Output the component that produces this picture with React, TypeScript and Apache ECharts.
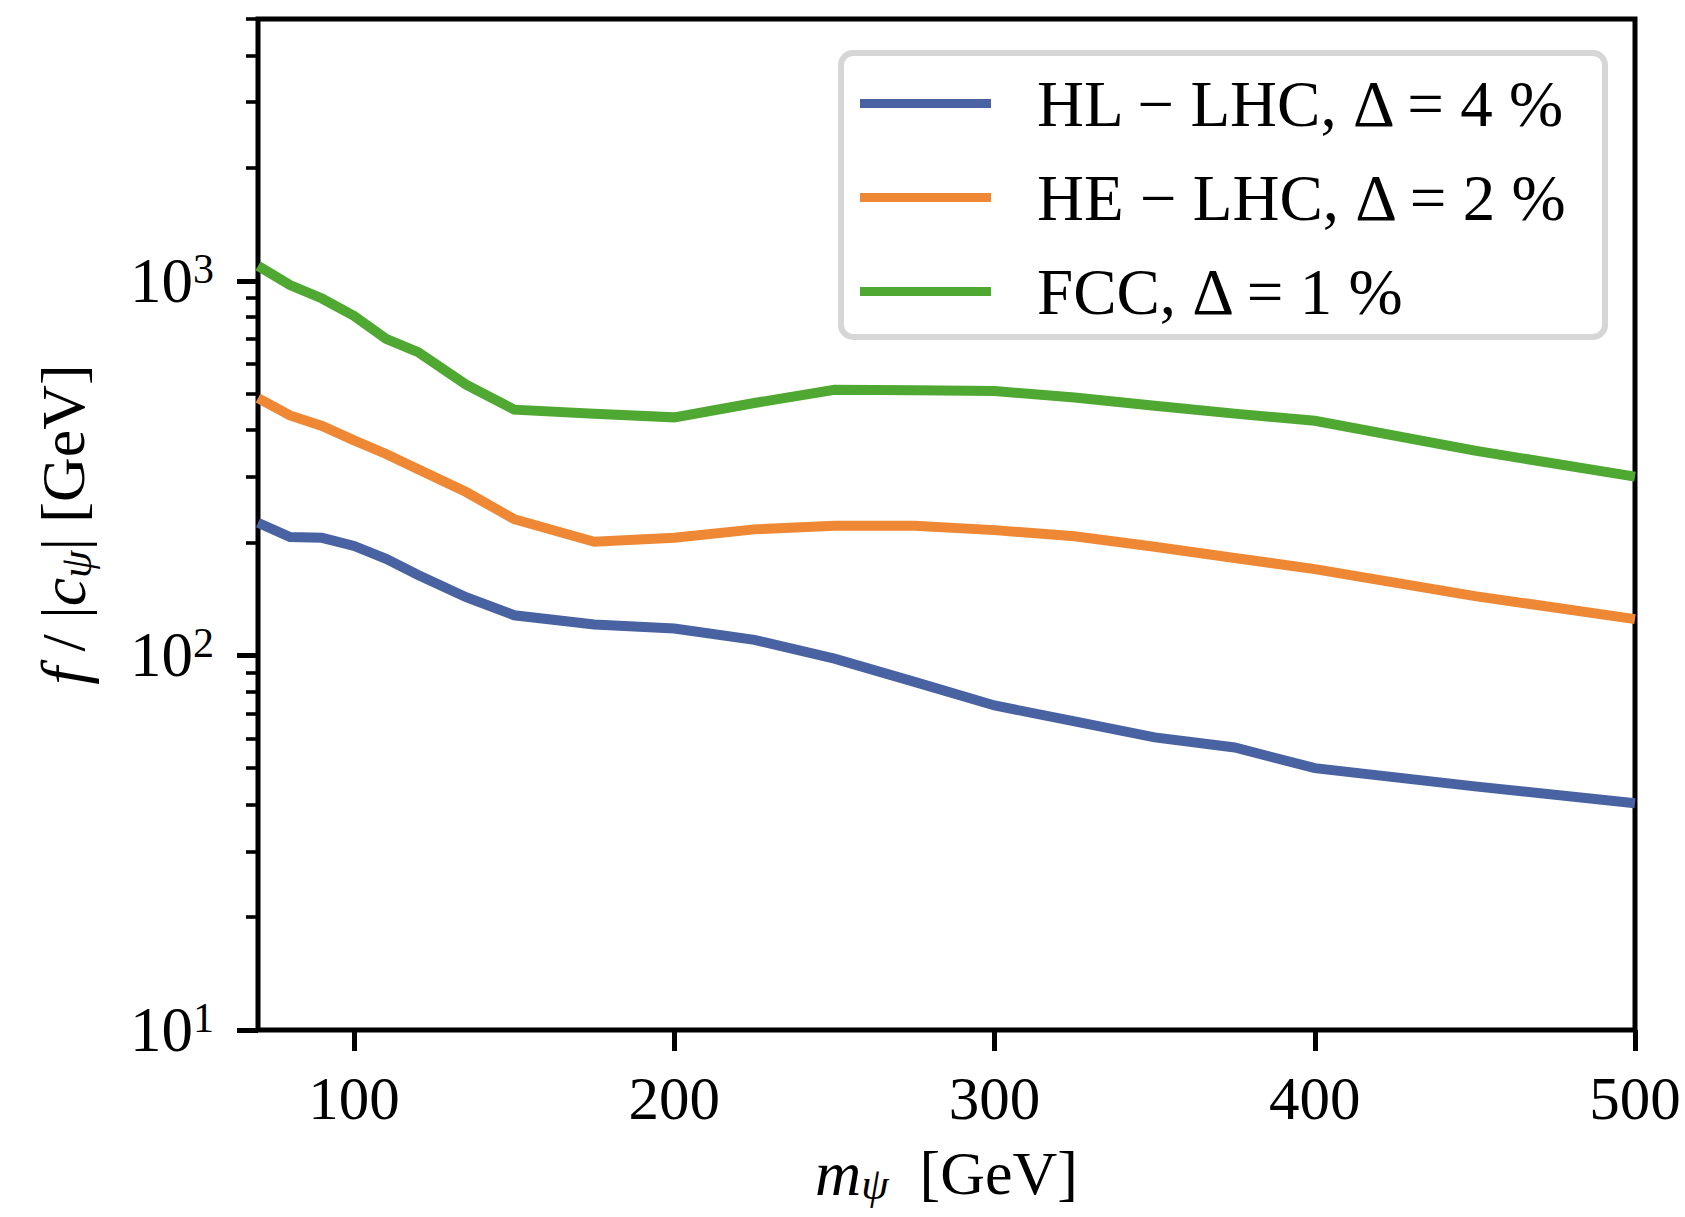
import React, { useEffect, useRef } from 'react';
import * as echarts from 'echarts';

// ---- data ----
const massGeV = [70, 80, 90, 100, 110, 120, 135, 150, 175, 200, 225, 250, 275, 300, 325, 350, 375, 400, 450, 500];
const hlLhc = [226, 207, 206, 196, 181, 164, 143, 128, 121, 118, 110, 98, 85, 73.5, 66.7, 60.4, 56.8, 50.0, 44.7, 40.3];
const heLhc = [486, 437, 410, 375, 345, 314, 273, 231, 201, 206, 217, 222, 222, 216, 208, 195, 182, 170, 144, 125];
const fcc = [1096, 974, 897, 806, 700, 645, 528, 453, 442, 432, 472, 512, 510, 508, 488, 464, 442, 423, 352, 300];

const seriesNames = ['HL − LHC, Δ = 4 %', 'HE − LHC, Δ = 2 %', 'FCC, Δ = 1 %'];
const seriesColors = ['#4862A2', '#EF8834', '#4FA831'];

const xTickValues = [100, 200, 300, 400, 500];
const yMajorValues = [10, 100, 1000];
const yMajorExponents = ['1', '2', '3'];
const yMinorValues = [20, 30, 40, 50, 60, 70, 80, 90, 200, 300, 400, 500, 600, 700, 800, 900, 2000, 3000, 4000, 5000];

const FONT = 'Liberation Serif';

export default function App() {
  const ref = useRef<HTMLDivElement>(null);
  useEffect(() => {
    if (!ref.current) return;
    const chart = echarts.init(ref.current, undefined, { renderer: 'svg' });
    const pairs = (ys: number[]) => massGeV.map((x, i) => [x, ys[i]]);
    const allSeries = [hlLhc, heLhc, fcc];
    const option: any = {
      animation: false,
      backgroundColor: '#fff',
      grid: {
        left: 258, top: 19, right: 50, bottom: 187,
        show: true, borderColor: '#000', borderWidth: 5,
        containLabel: false, outerBoundsMode: 'none',
      },
      legend: {
        orient: 'vertical',
        left: 860, top: 71,
        padding: 0,
        itemWidth: 131, itemHeight: 9,
        itemGap: 29,
        icon: 'rect',
        z: 10,
        textStyle: { fontFamily: FONT, fontSize: 65, lineHeight: 60, color: '#000', padding: [0, 0, 0, 41] },
        data: seriesNames,
      },
      graphic: [
        {
          type: 'rect', z: 5,
          shape: { x: 841, y: 53, width: 764, height: 284, r: 12 },
          style: { fill: '#fff', stroke: '#d6d6d6', lineWidth: 6 },
        },
      ],
      xAxis: {
        type: 'value', min: 70, max: 500,
        axisLine: { show: false },
        splitLine: { show: false },
        axisTick: { customValues: xTickValues, length: 21, lineStyle: { width: 5, color: '#000' } },
        axisLabel: {
          customValues: xTickValues, margin: 38,
          fontFamily: FONT, fontSize: 61, color: '#000',
        },
        name: '{i|m}{sub|ψ}  [GeV]',
        nameLocation: 'middle', nameGap: 110,
        nameTextStyle: {
          fontFamily: FONT, fontSize: 62, color: '#000',
          rich: {
            i: { fontFamily: FONT, fontStyle: 'italic', fontSize: 64, color: '#000' },
            sub: { fontFamily: FONT, fontStyle: 'italic', fontSize: 44, color: '#000', padding: [22, 0, 0, 0] },
          },
        },
      },
      yAxis: [
        {
          type: 'log', logBase: 10, min: 10, max: 5000,
          axisLine: { show: false },
          splitLine: { show: false },
          axisTick: { customValues: yMajorValues, length: 21, lineStyle: { width: 5, color: '#000' } },
          axisLabel: {
            customValues: yMajorValues, margin: 44,
            formatter: (v: number) => {
              let idx = 0;
              yMajorValues.forEach((t, i) => { if (Math.abs(Math.log10(t) - Math.log10(v)) < 0.01) idx = i; });
              return `{b|10}{s|${yMajorExponents[idx]}}`;
            },
            rich: {
              b: { fontFamily: FONT, fontSize: 63, color: '#000' },
              s: { fontFamily: FONT, fontSize: 42, color: '#000', padding: [0, 0, 24, 0] },
            },
          },
          name: '{i|f} / |{i|c}{sub|ψ}| [GeV]',
          nameLocation: 'middle', nameRotate: 90, nameGap: 160,
          nameTextStyle: {
            fontFamily: FONT, fontSize: 62, color: '#000',
            rich: {
              i: { fontFamily: FONT, fontStyle: 'italic', fontSize: 64, color: '#000' },
              sub: { fontFamily: FONT, fontStyle: 'italic', fontSize: 44, color: '#000', padding: [26, 0, 0, 0] },
            },
          },
        },
        {
          type: 'log', logBase: 10, min: 10, max: 5000, position: 'left',
          axisLine: { show: false },
          splitLine: { show: false },
          axisTick: { customValues: yMinorValues, length: 12, lineStyle: { width: 3.6, color: '#000' } },
          axisLabel: { show: false },
        },
      ],
      series: allSeries.map((ys, i) => ({
        name: seriesNames[i],
        type: 'line',
        data: pairs(ys),
        showSymbol: false,
        symbol: 'none',
        color: seriesColors[i],
        itemStyle: { color: seriesColors[i] },
        lineStyle: { width: 10, color: seriesColors[i], cap: 'butt', join: 'miter' },
        z: 2 + i,
      })),
    };
    chart.setOption(option);
    return () => chart.dispose();
  }, []);
  return <div ref={ref} style={{ position: 'fixed', left: 0, top: 0, width: 1685, height: 1217 }} />;
}
